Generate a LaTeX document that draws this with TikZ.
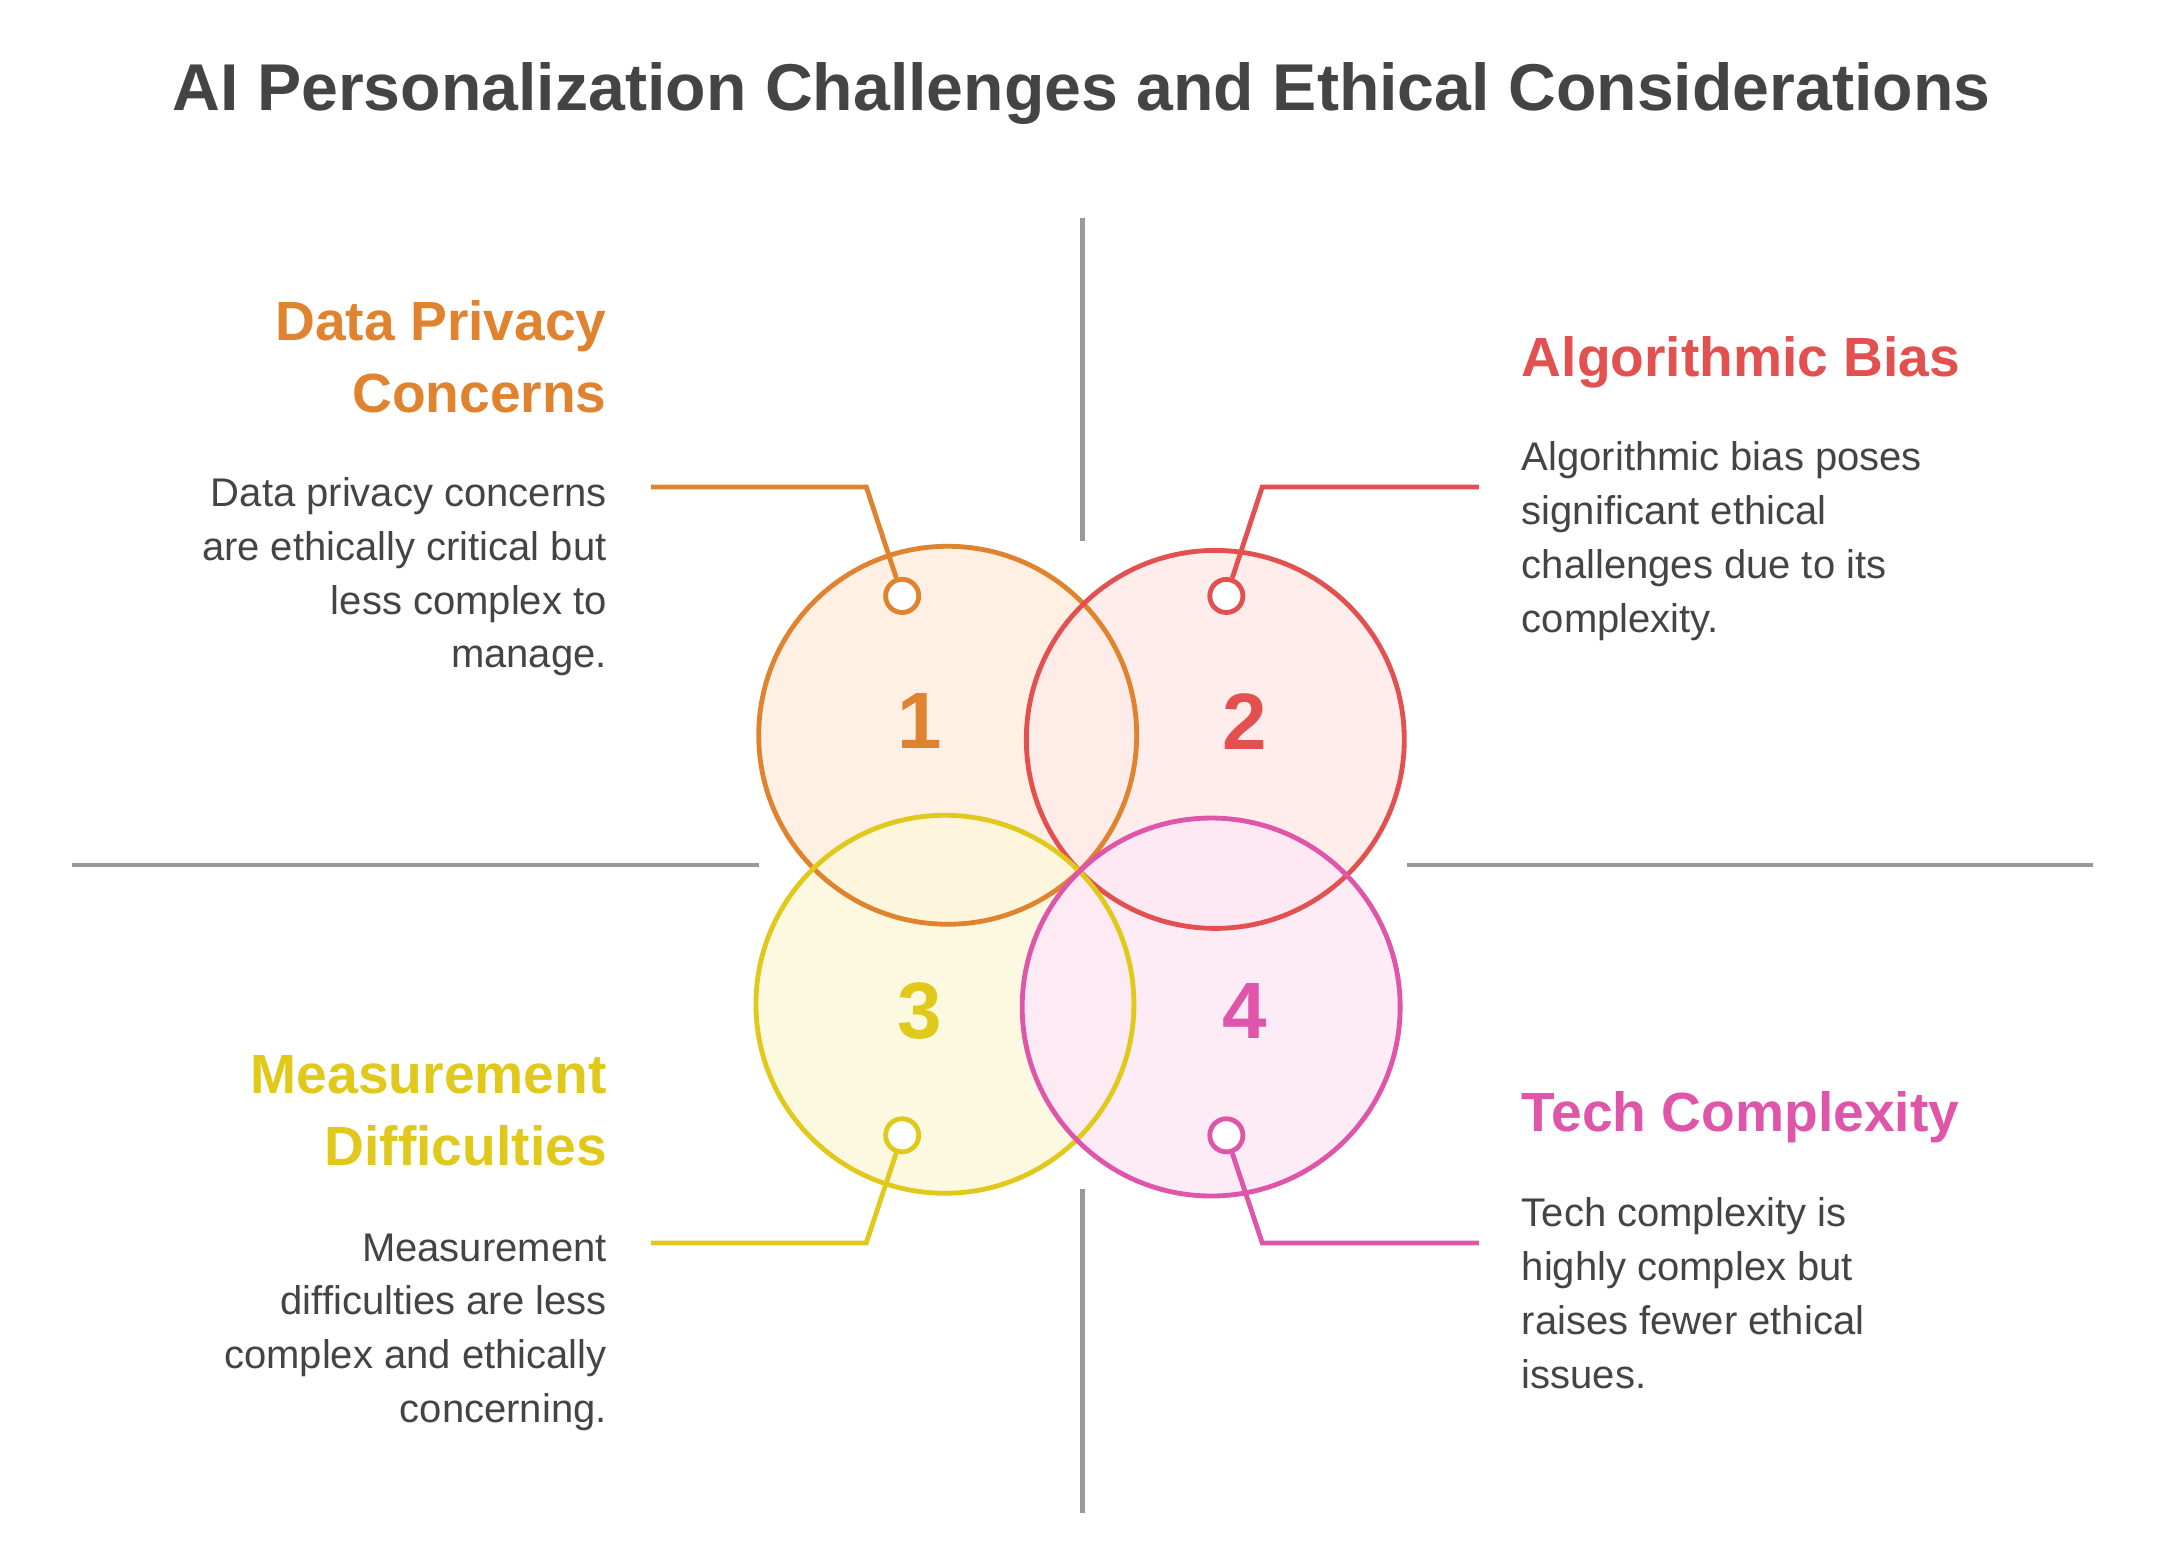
\documentclass[tikz,border=0pt]{standalone}
\usepackage{fontspec}
\setmainfont{Liberation Sans}
\definecolor{tgray}{HTML}{444444}
\definecolor{lgray}{HTML}{999999}
\definecolor{cA}{HTML}{E0832F}\definecolor{fA}{HTML}{FFF0E3}
\definecolor{cB}{HTML}{E35050}\definecolor{fB}{HTML}{FFEBE9}
\definecolor{cC}{HTML}{E0C91A}\definecolor{fC}{HTML}{FDF8DC}
\definecolor{cD}{HTML}{DE55A9}\definecolor{fD}{HTML}{FDE8F5}
\tikzset{
 sep/.style={draw=lgray,line width=3.5pt},
 ring/.style={line width=3.5pt},
 dot/.style={circle,draw,line width=3.5pt,minimum size=24pt,inner sep=0pt,fill=white},
 conn/.style={line width=3.5pt},
 num/.style={font=\fontsize{58}{58}\selectfont\bfseries},
 head/.style={font=\fontsize{40}{52}\selectfont\bfseries,inner sep=0pt},
 body/.style={font=\fontsize{29}{39}\selectfont,text=tgray,inner sep=0pt},
}
\begin{document}
\begin{tikzpicture}[x=1pt,y=-1pt]
\useasboundingbox[fill=white] (0,0) rectangle (1568,1122);
\node[font=\fontsize{48}{48}\selectfont\bfseries,text=tgray] (title) at (784,68) {AI Personalization Challenges and Ethical Considerations};
\coordinate (v1) at (785,158); \coordinate (v2) at (785,392);
\coordinate (v3) at (785,862); \coordinate (v4) at (785,1097);
\coordinate (h1) at (52,627); \coordinate (h2) at (550,627);
\coordinate (h3) at (1020,627); \coordinate (h4) at (1517,627);
\draw[sep] (v1)--(v2); \draw[sep] (v3)--(v4);
\draw[sep] (h1)--(h2); \draw[sep] (h3)--(h4);
% fills
\fill[fA] (687,533) circle (137);
\fill[fB,opacity=.85] (881,536) circle (137);
\fill[fC,opacity=.85] (685,728) circle (137);
\fill[fD,opacity=.85] (878,730) circle (137);
\draw[ring,cA] (687,533) circle (137);
\draw[ring,cB] (881,536) circle (137);
\draw[ring,cC] (685,728) circle (137);
\draw[ring,cD] (878,730) circle (137);
\node[num,text=cA] (n1) at (667,523) {1};
\node[num,text=cB] (n2) at (902,523) {2};
\node[num,text=cC] (n3) at (667,733) {3};
\node[num,text=cD] (n4) at (902,733) {4};
\node[dot,draw=cA] (d1) at (654,432) {};
\node[dot,draw=cB] (d2) at (889,432) {};
\node[dot,draw=cC] (d3) at (654,823) {};
\node[dot,draw=cD] (d4) at (889,823) {};
\coordinate (e1) at (472,353); \coordinate (e2) at (1072,353);
\coordinate (e3) at (472,901); \coordinate (e4) at (1072,901);
\draw[conn,cA] (d1)--(628,353)--(e1);
\draw[conn,cB] (d2)--(915,353)--(e2);
\draw[conn,cC] (d3)--(628,901)--(e3);
\draw[conn,cD] (d4)--(915,901)--(e4);
% texts
\node[head,text=cA,align=right,anchor=north east] (t1) at (440,218) {Data Privacy\\Concerns};
\node[body,align=right,anchor=north east] (b1) at (440,346) {Data privacy concerns\\are ethically critical but\\less complex to\\manage.};
\node[head,text=cB,align=left,anchor=north west] (t2) at (1103,244) {Algorithmic Bias};
\node[body,align=left,anchor=north west] (b2) at (1103,320) {Algorithmic bias poses\\significant ethical\\challenges due to its\\complexity.};
\node[head,text=cC,align=right,anchor=north east] (t3) at (440,765) {Measurement\\Difficulties};
\node[body,align=right,anchor=north east] (b3) at (440,894) {Measurement\\difficulties are less\\complex and ethically\\concerning.};
\node[head,text=cD,align=left,anchor=north west] (t4) at (1103,791) {Tech Complexity};
\node[body,align=left,anchor=north west] (b4) at (1103,868) {Tech complexity is\\highly complex but\\raises fewer ethical\\issues.};
\end{tikzpicture}
\end{document}
